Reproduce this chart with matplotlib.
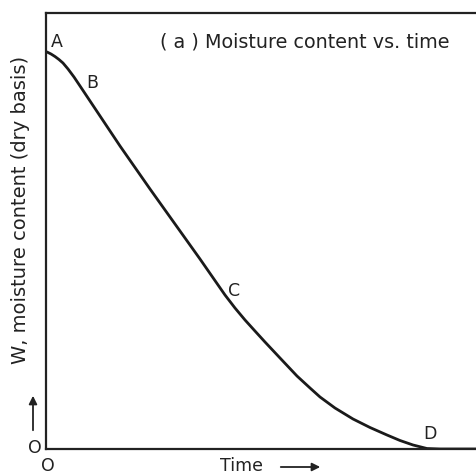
import matplotlib
matplotlib.use("Agg")
import matplotlib.pyplot as plt

# Drying curve (time, moisture content), arbitrary units
time = [0.023, 0.116, 0.209, 0.302, 0.395, 0.512, 0.651, 0.791, 1.721, 2.419, 3.581,
        4.163, 4.395, 4.628, 4.860, 5.093, 5.442, 5.837, 6.140, 6.372, 6.721, 7.140,
        7.535, 7.930, 8.233, 8.535, 8.860, 9.163, 10.0]
moisture = [9.106, 9.060, 9.002, 8.933, 8.853, 8.716, 8.532, 8.326, 6.950, 5.963, 4.358,
            3.532, 3.234, 2.959, 2.706, 2.454, 2.087, 1.674, 1.399, 1.193, 0.940, 0.688,
            0.493, 0.321, 0.195, 0.092, 0.011, 0.0, 0.0]

point_labels = ["A", "B", "C", "D"]
point_x = [0.023, 0.791, 4.163, 8.860]
point_y = [9.106, 8.326, 3.532, 0.011]
label_offsets = [(7.2, 7.9), (8.6, 2.9), (6.5, 3.6), (2.2, 11.5)]

title = "( a ) Moisture content vs. time"
ylabel = "W, moisture content (dry basis)"
xlabel = "Time"

plt.rcParams['font.family'] = ['DejaVu Sans']
INK = "#222222"

fig = plt.figure(figsize=(4.76, 4.77), dpi=100)
ax = fig.add_axes([46/476, 27/477, 1 - 46/476, 436/477])
ax.plot(time, moisture, color="#1a1a1a", lw=2.0, solid_capstyle="round",
        solid_joinstyle="round")
ax.set_xlim(0, 10)
ax.set_ylim(0, 10)
ax.set_xticks([])
ax.set_yticks([])
ax.spines['right'].set_visible(False)
for s in ['left', 'bottom', 'top']:
    ax.spines[s].set_linewidth(1.6)
    ax.spines[s].set_color(INK)

for lab, x, y, off in zip(point_labels, point_x, point_y, label_offsets):
    ax.annotate(lab, (x, y), xytext=off, textcoords="offset points",
                fontsize=12.5, color=INK, ha="center", va="center")

ax.text(0.265, 0.935, title, transform=ax.transAxes, fontsize=13.8, color=INK,
        ha="left", va="center")

# axis labels
fig.text(21/476, 1 - 210/477, ylabel, rotation=90, fontsize=14, color=INK,
         ha="center", va="center")
fig.text(35/476, 1 - 448/477, "O", fontsize=12.5, color=INK, ha="center", va="center")
fig.text(48/476, 1 - 466/477, "O", fontsize=12.5, color=INK, ha="center", va="center")
fig.text(241/476, 1 - 466/477, xlabel, fontsize=12.5, color=INK, ha="center", va="center")

fig.add_artist(matplotlib.patches.FancyArrowPatch(
    (33/476, 1 - 434/477), (33/476, 1 - 394/477), transform=fig.transFigure,
    arrowstyle="-|>", mutation_scale=12, lw=1.3, color=INK))
fig.add_artist(matplotlib.patches.FancyArrowPatch(
    (278/476, 1 - 468/477), (323/476, 1 - 468/477), transform=fig.transFigure,
    arrowstyle="-|>", mutation_scale=12, lw=1.3, color=INK))

fig.savefig("out.png", dpi=100)
